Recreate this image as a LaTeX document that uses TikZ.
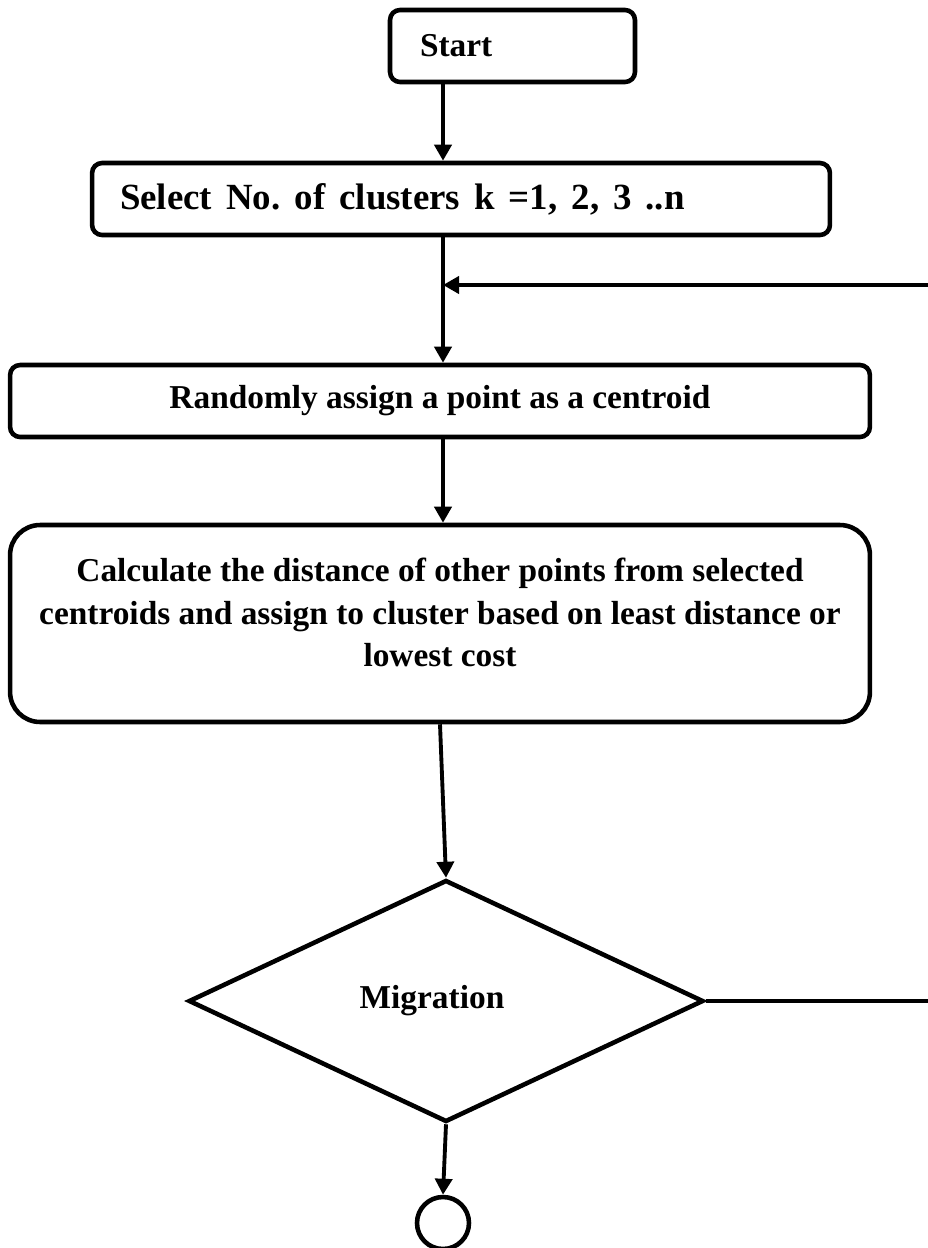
\documentclass[tikz,border=0pt]{standalone}
\usepackage{fontspec}
\setmainfont{Liberation Serif}
\usetikzlibrary{shapes.geometric,arrows.meta}

\tikzset{
  stepbox/.style={draw, line width=2.6pt, rounded corners=0.2cm, minimum height=1.44cm, inner sep=0pt, font=\fontsize{19}{24}\selectfont\bfseries},
  flow/.style={line width=2.2pt, -{Triangle[length=0.32cm,width=0.34cm]}},
  plain/.style={line width=2.2pt}
}

\begin{document}
\frenchspacing
\begin{tikzpicture}[x=0.02cm, y=-0.02cm]
        % Cadre
        \useasboundingbox (0,0) rectangle (928,1248);
        % Boites
        \node[stepbox, text width=3.7cm, inner xsep=0.6cm, align=left] (start) at (512.5,46) {Start};
        \node[stepbox, text width=13.64cm, inner xsep=0.56cm, align=left, font=\fontsize{21}{24}\selectfont\bfseries]
             (select) at (461,199) {\spaceskip=0.38em Select No. of clusters k =1, 2, 3 ..n};
        \node[stepbox, minimum width=17.2cm, align=center] (rand) at (440,401) {Randomly assign a point as a centroid};
        \node[stepbox, rounded corners=0.6cm, minimum width=17.2cm, minimum height=3.94cm] (calc) at (440,623.5) {};
        \node[font=\fontsize{19}{24}\selectfont\bfseries, align=center] (calctext) at ([yshift=0.22cm]calc.center)
             {Calculate the distance of other points from selected\\ centroids and assign to cluster based on least distance or\\ lowest cost};
        % Losange
        \node[draw, diamond, line width=2.6pt, minimum width=10.3cm, minimum height=4.84cm, inner sep=0pt,
              font=\fontsize{19}{24}\selectfont\bfseries] (mig) at (446,1001) {Migration\kern0.56cm};
        % Cercle de fin
        \node[draw, circle, line width=2.6pt, minimum size=1.04cm, inner sep=0pt] (stop) at (443,1223) {};
        % Axe des fleches
        \coordinate (ax) at (443,0);
        \coordinate (back) at (928,285);
        \coordinate (out) at (928,1001);
        % Fleches
        \draw[flow] (ax |- start.south) -- (ax |- select.north);
        \draw[flow] (ax |- select.south) -- (ax |- rand.north);
        \draw[flow] (back) -- (ax |- back);
        \draw[flow] (ax |- rand.south) -- (ax |- calc.north);
        \draw[flow] (calc.south) -- (mig.north);
        \draw[plain] (mig.east) -- (out);
        \draw[flow] (mig.south) -- (stop.north);
    \end{tikzpicture}
\end{document}
